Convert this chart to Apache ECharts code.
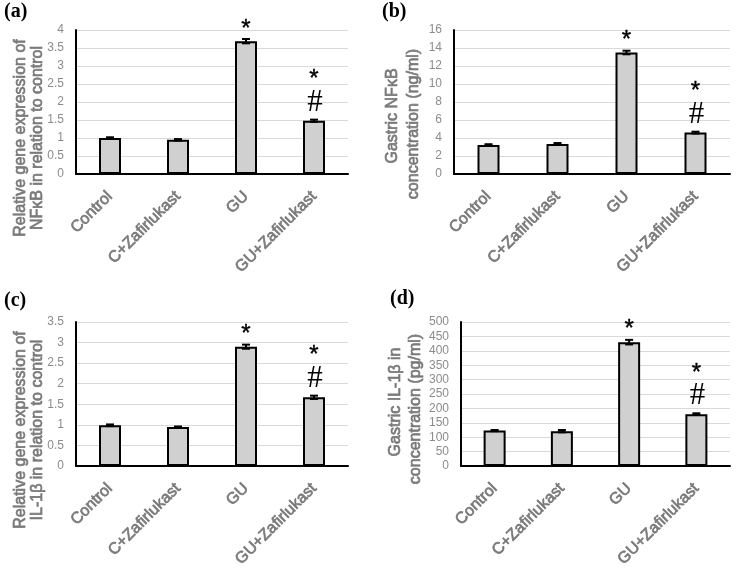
<!DOCTYPE html>
<html>
<head>
<meta charset="utf-8">
<script src="https://cdn.jsdelivr.net/npm/echarts@6/dist/echarts.min.js"></script>
<style>
  html, body { margin: 0; padding: 0; background: #fff; }
  #chart { width: 736px; height: 575px; }
</style>
</head>
<body>
<div id="chart"></div>
<script>
// groups on the x axis
const categories = ["Control", "C+Zafirlukast", "GU", "GU+Zafirlukast"];

// (a) relative NFkB gene expression
const nfkbGene = [1.0, 0.95, 3.69, 1.48];
const nfkbGeneErr = [0.02, 0.02, 0.06, 0.03];
// (b) gastric NFkB, ng/ml
const nfkbConc = [3.23, 3.34, 13.5, 4.6];
const nfkbConcErr = [0.08, 0.1, 0.2, 0.1];
// (c) relative IL-1b gene expression
const il1bGene = [0.99, 0.95, 2.9, 1.67];
const il1bGeneErr = [0.02, 0.01, 0.05, 0.04];
// (d) gastric IL-1b, pg/ml
const il1bConc = [123, 121, 430, 180];
const il1bConcErr = [2, 4, 8, 3];

// significance marks (same in every panel)
const starMark = [false, false, true, true];
const hashMark = [false, false, false, true];

// y axis ranges
const yMax = [4, 16, 3.5, 500];
const yStep = [0.5, 2, 0.5, 50];

const panelTags = ["(a)", "(b)", "(c)", "(d)"];
const yNames = [
  ["Relative gene expression of", "NF\u03baB in relation to control"],
  ["Gastric NF\u03baB", "concentration (ng/ml)"],
  ["Relative gene expression of", "IL-1\u03b2 in relation to control"],
  ["Gastric IL-1\u03b2 in", "concentration (pg/ml)"]
];

const values = [nfkbGene, nfkbConc, il1bGene, il1bConc];
const errors = [nfkbGeneErr, nfkbConcErr, il1bGeneErr, il1bConcErr];

const chart = echarts.init(document.getElementById("chart"));

const grids = [
  { left: 76, top: 30, width: 272, height: 144 },
  { left: 454, top: 30, width: 276, height: 144 },
  { left: 76, top: 322, width: 272, height: 144 },
  { left: 461, top: 322, width: 269, height: 144 }
];
const tagPos = [[4, 2], [382, 2], [4, 291], [390, 289]];
const namePos = [
  [[21, 138], [38, 138]],
  [[393, 116], [414, 124]],
  [[21, 430], [38, 430]],
  [[396, 402], [416, 409]]
];

const grey = "#7a7a7a";
const sans = "'Liberation Sans', Arial, sans-serif";

function errorBars(params, api) {
  const i = api.value(0);
  const v = api.value(1);
  const e = api.value(2);
  const top = api.coord([i, v + e]);
  const bot = api.coord([i, v - e]);
  const st = { stroke: "#000", lineWidth: 2 };
  const kids = [
    { type: "line", shape: { x1: top[0], y1: top[1], x2: bot[0], y2: bot[1] }, style: st },
    { type: "line", shape: { x1: top[0] - 4, y1: top[1], x2: top[0] + 4, y2: top[1] }, style: st },
    { type: "line", shape: { x1: bot[0] - 4, y1: bot[1], x2: bot[0] + 4, y2: bot[1] }, style: st }
  ];
  const hasHash = api.value(4) === 1;
  if (hasHash) {
    kids.push({
      type: "text", x: top[0] + 1, y: top[1] - 17,
      style: { text: "#", fill: "#000", font: "31px 'Liberation Serif', serif",
               textAlign: "center", textVerticalAlign: "middle" }
    });
  }
  if (api.value(3) === 1) {
    kids.push({
      type: "text", x: top[0], y: top[1] - (hasHash ? 40 : 10),
      style: { text: "*", fill: "#000", font: "24px " + sans,
               stroke: "#000", lineWidth: 0.4,
               textAlign: "center", textVerticalAlign: "middle" }
    });
  }
  return { type: "group", children: kids };
}

const xAxes = [], yAxes = [], series = [], graphics = [];
for (let p = 0; p < 4; p++) {
  xAxes.push({
    gridIndex: p, type: "category", data: categories,
    axisLine: { lineStyle: { color: "#000", width: 2 } },
    axisTick: { show: false },
    axisLabel: { interval: 0, rotate: 45, margin: 20, color: grey,
                 fontSize: 16, fontFamily: sans,
                 textBorderColor: grey, textBorderWidth: 0.7 }
  });
  yAxes.push({
    gridIndex: p, type: "value", min: 0, max: yMax[p], interval: yStep[p],
    axisLine: { show: true, lineStyle: { color: "#000", width: 2 } },
    axisTick: { show: false },
    splitLine: { lineStyle: { color: "#d9d9d9", width: 1 } },
    axisLabel: { margin: 12, color: "#8c8c8c", fontSize: 12, fontFamily: sans }
  });
  series.push({
    type: "bar", xAxisIndex: p, yAxisIndex: p, data: values[p], barWidth: 22,
    itemStyle: { color: "#d0d0d0", borderColor: "#000", borderWidth: 2 },
    silent: true, animation: false
  });
  series.push({
    type: "custom", xAxisIndex: p, yAxisIndex: p, renderItem: errorBars,
    encode: { x: 0, y: 1 }, z: 5, silent: true, animation: false,
    data: values[p].map((v, i) => [i, v, errors[p][i], starMark[i] ? 1 : 0, hashMark[i] ? 1 : 0])
  });
  graphics.push({
    type: "text", left: tagPos[p][0], top: tagPos[p][1],
    style: { text: panelTags[p], fill: "#000", font: "bold 20px 'Liberation Serif', serif" }
  });
  yNames[p].forEach((line, k) => {
    graphics.push({
      type: "text", x: namePos[p][k][0], y: namePos[p][k][1], rotation: Math.PI / 2,
      style: { text: line, fill: grey, font: "16px " + sans,
               stroke: grey, lineWidth: 0.7,
               textAlign: "center", textVerticalAlign: "middle" }
    });
  });
}

chart.setOption({
  animation: false,
  grid: grids,
  xAxis: xAxes,
  yAxis: yAxes,
  series: series,
  graphic: graphics
});
</script>
</body>
</html>
